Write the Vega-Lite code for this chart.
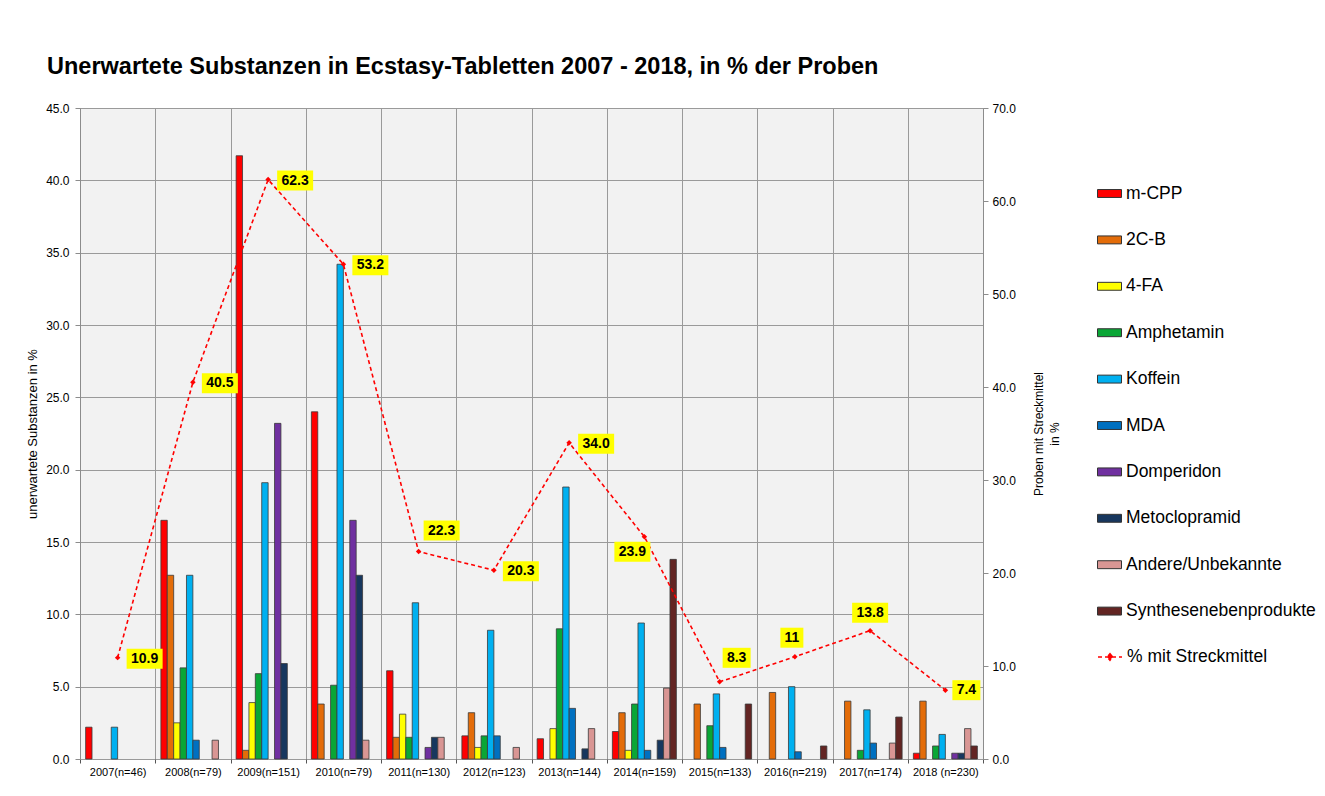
{
  "$schema": "https://vega.github.io/schema/vega-lite/v6.json",
  "width": 903,
  "height": 651,
  "autosize": {"type": "none"},
  "padding": {"left": 80, "top": 108, "right": 342, "bottom": 37},
  "background": "white",
  "config": {
    "font": "Liberation Sans",
    "view": {"fill": "#f2f2f2", "stroke": "#8c8c8c", "strokeWidth": 1}
  },
  "title": {
    "text": "Unerwartete Substanzen in Ecstasy-Tabletten 2007 - 2018, in % der Proben",
    "fontSize": 23.5,
    "fontWeight": "bold",
    "font": "Liberation Sans",
    "color": "#000000",
    "anchor": "start",
    "frame": "group",
    "dx": -33,
    "offset": 24
  },
  "datasets": {
    "bars": [
      {"year": "2007(n=46)", "substance": "m-CPP", "value": 2.2},
      {"year": "2007(n=46)", "substance": "Koffein", "value": 2.2},
      {"year": "2008(n=79)", "substance": "m-CPP", "value": 16.5},
      {"year": "2008(n=79)", "substance": "2C-B", "value": 12.7},
      {"year": "2008(n=79)", "substance": "4-FA", "value": 2.5},
      {"year": "2008(n=79)", "substance": "Amphetamin", "value": 6.3},
      {"year": "2008(n=79)", "substance": "Koffein", "value": 12.7},
      {"year": "2008(n=79)", "substance": "MDA", "value": 1.3},
      {"year": "2008(n=79)", "substance": "Andere/Unbekannte", "value": 1.3},
      {"year": "2009(n=151)", "substance": "m-CPP", "value": 41.7},
      {"year": "2009(n=151)", "substance": "2C-B", "value": 0.6},
      {"year": "2009(n=151)", "substance": "4-FA", "value": 3.9},
      {"year": "2009(n=151)", "substance": "Amphetamin", "value": 5.9},
      {"year": "2009(n=151)", "substance": "Koffein", "value": 19.1},
      {"year": "2009(n=151)", "substance": "Domperidon", "value": 23.2},
      {"year": "2009(n=151)", "substance": "Metoclopramid", "value": 6.6},
      {"year": "2010(n=79)", "substance": "m-CPP", "value": 24.0},
      {"year": "2010(n=79)", "substance": "2C-B", "value": 3.8},
      {"year": "2010(n=79)", "substance": "Amphetamin", "value": 5.1},
      {"year": "2010(n=79)", "substance": "Koffein", "value": 34.2},
      {"year": "2010(n=79)", "substance": "Domperidon", "value": 16.5},
      {"year": "2010(n=79)", "substance": "Metoclopramid", "value": 12.7},
      {"year": "2010(n=79)", "substance": "Andere/Unbekannte", "value": 1.3},
      {"year": "2011(n=130)", "substance": "m-CPP", "value": 6.1},
      {"year": "2011(n=130)", "substance": "2C-B", "value": 1.5},
      {"year": "2011(n=130)", "substance": "4-FA", "value": 3.1},
      {"year": "2011(n=130)", "substance": "Amphetamin", "value": 1.5},
      {"year": "2011(n=130)", "substance": "Koffein", "value": 10.8},
      {"year": "2011(n=130)", "substance": "Domperidon", "value": 0.8},
      {"year": "2011(n=130)", "substance": "Metoclopramid", "value": 1.5},
      {"year": "2011(n=130)", "substance": "Andere/Unbekannte", "value": 1.5},
      {"year": "2012(n=123)", "substance": "m-CPP", "value": 1.6},
      {"year": "2012(n=123)", "substance": "2C-B", "value": 3.2},
      {"year": "2012(n=123)", "substance": "4-FA", "value": 0.8},
      {"year": "2012(n=123)", "substance": "Amphetamin", "value": 1.6},
      {"year": "2012(n=123)", "substance": "Koffein", "value": 8.9},
      {"year": "2012(n=123)", "substance": "MDA", "value": 1.6},
      {"year": "2012(n=123)", "substance": "Andere/Unbekannte", "value": 0.8},
      {"year": "2013(n=144)", "substance": "m-CPP", "value": 1.4},
      {"year": "2013(n=144)", "substance": "4-FA", "value": 2.1},
      {"year": "2013(n=144)", "substance": "Amphetamin", "value": 9.0},
      {"year": "2013(n=144)", "substance": "Koffein", "value": 18.8},
      {"year": "2013(n=144)", "substance": "MDA", "value": 3.5},
      {"year": "2013(n=144)", "substance": "Metoclopramid", "value": 0.7},
      {"year": "2013(n=144)", "substance": "Andere/Unbekannte", "value": 2.1},
      {"year": "2014(n=159)", "substance": "m-CPP", "value": 1.9},
      {"year": "2014(n=159)", "substance": "2C-B", "value": 3.2},
      {"year": "2014(n=159)", "substance": "4-FA", "value": 0.6},
      {"year": "2014(n=159)", "substance": "Amphetamin", "value": 3.8},
      {"year": "2014(n=159)", "substance": "Koffein", "value": 9.4},
      {"year": "2014(n=159)", "substance": "MDA", "value": 0.6},
      {"year": "2014(n=159)", "substance": "Metoclopramid", "value": 1.3},
      {"year": "2014(n=159)", "substance": "Andere/Unbekannte", "value": 4.9},
      {"year": "2014(n=159)", "substance": "Synthesenebenprodukte", "value": 13.8},
      {"year": "2015(n=133)", "substance": "2C-B", "value": 3.8},
      {"year": "2015(n=133)", "substance": "Amphetamin", "value": 2.3},
      {"year": "2015(n=133)", "substance": "Koffein", "value": 4.5},
      {"year": "2015(n=133)", "substance": "MDA", "value": 0.8},
      {"year": "2015(n=133)", "substance": "Synthesenebenprodukte", "value": 3.8},
      {"year": "2016(n=219)", "substance": "2C-B", "value": 4.6},
      {"year": "2016(n=219)", "substance": "Koffein", "value": 5.0},
      {"year": "2016(n=219)", "substance": "MDA", "value": 0.5},
      {"year": "2016(n=219)", "substance": "Synthesenebenprodukte", "value": 0.9},
      {"year": "2017(n=174)", "substance": "2C-B", "value": 4.0},
      {"year": "2017(n=174)", "substance": "Amphetamin", "value": 0.6},
      {"year": "2017(n=174)", "substance": "Koffein", "value": 3.4},
      {"year": "2017(n=174)", "substance": "MDA", "value": 1.1},
      {"year": "2017(n=174)", "substance": "Andere/Unbekannte", "value": 1.1},
      {"year": "2017(n=174)", "substance": "Synthesenebenprodukte", "value": 2.9},
      {"year": "2018 (n=230)", "substance": "m-CPP", "value": 0.4},
      {"year": "2018 (n=230)", "substance": "2C-B", "value": 4.0},
      {"year": "2018 (n=230)", "substance": "Amphetamin", "value": 0.9},
      {"year": "2018 (n=230)", "substance": "Koffein", "value": 1.7},
      {"year": "2018 (n=230)", "substance": "Domperidon", "value": 0.4},
      {"year": "2018 (n=230)", "substance": "Metoclopramid", "value": 0.4},
      {"year": "2018 (n=230)", "substance": "Andere/Unbekannte", "value": 2.1},
      {"year": "2018 (n=230)", "substance": "Synthesenebenprodukte", "value": 0.9}
    ],
    "line": [
      {"year": "2007(n=46)", "pct": 10.9, "label": "10.9"},
      {"year": "2008(n=79)", "pct": 40.5, "label": "40.5"},
      {"year": "2009(n=151)", "pct": 62.3, "label": "62.3"},
      {"year": "2010(n=79)", "pct": 53.2, "label": "53.2"},
      {"year": "2011(n=130)", "pct": 22.3, "label": "22.3"},
      {"year": "2012(n=123)", "pct": 20.3, "label": "20.3"},
      {"year": "2013(n=144)", "pct": 34.0, "label": "34.0"},
      {"year": "2014(n=159)", "pct": 23.9, "label": "23.9"},
      {"year": "2015(n=133)", "pct": 8.3, "label": "8.3"},
      {"year": "2016(n=219)", "pct": 11.0, "label": "11"},
      {"year": "2017(n=174)", "pct": 13.8, "label": "13.8"},
      {"year": "2018 (n=230)", "pct": 7.4, "label": "7.4"}
    ]
  },
  "resolve": {"scale": {"y": "independent"}},
  "layer": [
    {
      "data": {"name": "bars"},
      "mark": {"type": "bar", "stroke": "#3a3a3a", "strokeWidth": 0.8},
      "encoding": {
        "x": {
          "field": "year", "type": "nominal", "sort": null,
          "scale": {
            "domain": ["2007(n=46)", "2008(n=79)", "2009(n=151)", "2010(n=79)", "2011(n=130)", "2012(n=123)", "2013(n=144)", "2014(n=159)", "2015(n=133)", "2016(n=219)", "2017(n=174)", "2018 (n=230)"],
            "paddingInner": 0, "paddingOuter": 0
          },
          "axis": {
            "title": null, "tickBand": "extent", "grid": true, "gridColor": "#9a9a9a", "gridWidth": 1,
            "domain": false, "ticks": true, "tickSize": 4, "tickColor": "#555555",
            "labelFontSize": 11, "labelColor": "#000000", "labelPadding": 3, "labelAngle": 0,
            "labelFont": "Liberation Sans"
          }
        },
        "xOffset": {
          "field": "substance", "type": "nominal",
          "scale": {
            "domain": ["m-CPP", "2C-B", "4-FA", "Amphetamin", "Koffein", "MDA", "Domperidon", "Metoclopramid", "Andere/Unbekannte", "Synthesenebenprodukte"],
            "paddingInner": 0, "paddingOuter": 0.88
          }
        },
        "y": {
          "field": "value", "type": "quantitative",
          "scale": {"domain": [0, 45], "nice": false},
          "axis": {
            "title": "unerwartete Substanzen in %", "values": [0, 5, 10, 15, 20, 25, 30, 35, 40, 45], "format": ".1f",
            "grid": true, "gridColor": "#9a9a9a", "gridWidth": 1,
            "domain": true, "domainColor": "#8c8c8c", "tickColor": "#8c8c8c", "tickSize": 5,
            "labelFontSize": 12, "labelColor": "#000000", "labelPadding": 6, "labelFont": "Liberation Sans",
            "titleFontSize": 13, "titleFontWeight": "normal", "titleColor": "#000000", "titlePadding": 6, "titleFont": "Liberation Sans"
          }
        },
        "color": {
          "field": "substance", "type": "nominal",
          "scale": {
            "domain": ["m-CPP", "2C-B", "4-FA", "Amphetamin", "Koffein", "MDA", "Domperidon", "Metoclopramid", "Andere/Unbekannte", "Synthesenebenprodukte"],
            "range": ["#ff0000", "#e36c09", "#ffff00", "#0aa636", "#00b0f0", "#0070c0", "#7030a0", "#17375e", "#d99694", "#632523"]
          },
          "legend": {
            "title": null, "orient": "none", "legendX": 1017, "legendY": 73, "padding": 0,
            "symbolType": "M-1,-0.33H1V0.33H-1Z", "symbolSize": 576, "symbolStrokeColor": "#333333", "symbolStrokeWidth": 1,
            "labelFontSize": 17.5, "labelColor": "#000000", "labelOffset": 4, "rowPadding": 25.4, "labelLimit": 300, "labelFont": "Liberation Sans"
          }
        }
      }
    },
    {
      "data": {"name": "line"},
      "encoding": {
        "x": {"field": "year", "type": "nominal", "sort": null},
        "y": {
          "field": "pct", "type": "quantitative",
          "scale": {"domain": [0, 70], "nice": false},
          "axis": {
            "orient": "right", "title": ["Proben mit Streckmittel", "in %"], "values": [0, 10, 20, 30, 40, 50, 60, 70], "format": ".1f",
            "grid": false, "domain": true, "domainColor": "#8c8c8c", "tickColor": "#8c8c8c", "tickSize": 5,
            "labelFontSize": 12, "labelColor": "#000000", "labelPadding": 4, "labelFont": "Liberation Sans",
            "titleFontSize": 12, "titleFontWeight": "normal", "titleColor": "#000000", "titlePadding": 14,
            "titleAngle": 270, "titleLineHeight": 16, "titleFont": "Liberation Sans"
          }
        }
      },
      "layer": [
        {
          "mark": {"type": "line", "color": "#ff0000", "strokeWidth": 1.6},
          "encoding": {
            "strokeDash": {
              "datum": "% mit Streckmittel",
              "scale": {"range": [[4, 3]]},
              "legend": {
                "title": null, "orient": "none", "legendX": 1017, "legendY": 536, "padding": 0,
                "symbolType": "M-1,0H1M0,-0.28L0.22,0L0,0.28L-0.22,0Z", "symbolSize": 576,
                "symbolStrokeColor": "#ff0000", "symbolFillColor": "#ff0000", "symbolStrokeWidth": 1.5,
                "labelFontSize": 17.5, "labelColor": "#000000", "labelOffset": 4, "labelLimit": 300, "labelFont": "Liberation Sans"
              }
            }
          }
        },
        {
          "mark": {"type": "point", "shape": "diamond", "filled": true, "color": "#ff0000", "size": 30, "opacity": 1}
        },
        {
          "transform": [{"filter": {"field": "year", "oneOf": ["2007(n=46)", "2008(n=79)", "2009(n=151)", "2010(n=79)", "2012(n=123)", "2013(n=144)"]}}],
          "layer": [
            {"mark": {"type": "point", "filled": true, "color": "#ffff00", "opacity": 1, "size": 400, "strokeWidth": 0, "xOffset": 27, "yOffset": 1, "shape": "M-1.8,-1H1.8V1H-1.8Z"}},
            {"mark": {"type": "text", "xOffset": 27, "yOffset": 1, "fontWeight": "bold", "fontSize": 14, "align": "center", "baseline": "middle", "color": "#000000", "font": "Liberation Sans"}, "encoding": {"text": {"field": "label"}}}
          ]
        },
        {
          "transform": [{"filter": {"field": "year", "oneOf": ["2018 (n=230)"]}}],
          "layer": [
            {"mark": {"type": "point", "filled": true, "color": "#ffff00", "opacity": 1, "size": 400, "strokeWidth": 0, "xOffset": 21, "yOffset": 0, "shape": "M-1.4,-1H1.4V1H-1.4Z"}},
            {"mark": {"type": "text", "xOffset": 21, "yOffset": 0, "fontWeight": "bold", "fontSize": 14, "align": "center", "baseline": "middle", "color": "#000000", "font": "Liberation Sans"}, "encoding": {"text": {"field": "label"}}}
          ]
        },
        {
          "transform": [{"filter": {"field": "year", "oneOf": ["2011(n=130)"]}}],
          "layer": [
            {"mark": {"type": "point", "filled": true, "color": "#ffff00", "opacity": 1, "size": 400, "strokeWidth": 0, "xOffset": 23, "yOffset": -21, "shape": "M-1.8,-1H1.8V1H-1.8Z"}},
            {"mark": {"type": "text", "xOffset": 23, "yOffset": -21, "fontWeight": "bold", "fontSize": 14, "align": "center", "baseline": "middle", "color": "#000000", "font": "Liberation Sans"}, "encoding": {"text": {"field": "label"}}}
          ]
        },
        {
          "transform": [{"filter": {"field": "year", "oneOf": ["2014(n=159)"]}}],
          "layer": [
            {"mark": {"type": "point", "filled": true, "color": "#ffff00", "opacity": 1, "size": 400, "strokeWidth": 0, "xOffset": -12, "yOffset": 15, "shape": "M-1.8,-1H1.8V1H-1.8Z"}},
            {"mark": {"type": "text", "xOffset": -12, "yOffset": 15, "fontWeight": "bold", "fontSize": 14, "align": "center", "baseline": "middle", "color": "#000000", "font": "Liberation Sans"}, "encoding": {"text": {"field": "label"}}}
          ]
        },
        {
          "transform": [{"filter": {"field": "year", "oneOf": ["2015(n=133)"]}}],
          "layer": [
            {"mark": {"type": "point", "filled": true, "color": "#ffff00", "opacity": 1, "size": 400, "strokeWidth": 0, "xOffset": 17, "yOffset": -24, "shape": "M-1.4,-1H1.4V1H-1.4Z"}},
            {"mark": {"type": "text", "xOffset": 17, "yOffset": -24, "fontWeight": "bold", "fontSize": 14, "align": "center", "baseline": "middle", "color": "#000000", "font": "Liberation Sans"}, "encoding": {"text": {"field": "label"}}}
          ]
        },
        {
          "transform": [{"filter": {"field": "year", "oneOf": ["2016(n=219)"]}}],
          "layer": [
            {"mark": {"type": "point", "filled": true, "color": "#ffff00", "opacity": 1, "size": 400, "strokeWidth": 0, "xOffset": -3, "yOffset": -19, "shape": "M-1.15,-1H1.15V1H-1.15Z"}},
            {"mark": {"type": "text", "xOffset": -3, "yOffset": -19, "fontWeight": "bold", "fontSize": 14, "align": "center", "baseline": "middle", "color": "#000000", "font": "Liberation Sans"}, "encoding": {"text": {"field": "label"}}}
          ]
        },
        {
          "transform": [{"filter": {"field": "year", "oneOf": ["2017(n=174)"]}}],
          "layer": [
            {"mark": {"type": "point", "filled": true, "color": "#ffff00", "opacity": 1, "size": 400, "strokeWidth": 0, "xOffset": 0, "yOffset": -18, "shape": "M-1.8,-1H1.8V1H-1.8Z"}},
            {"mark": {"type": "text", "xOffset": 0, "yOffset": -18, "fontWeight": "bold", "fontSize": 14, "align": "center", "baseline": "middle", "color": "#000000", "font": "Liberation Sans"}, "encoding": {"text": {"field": "label"}}}
          ]
        }
      ]
    }
  ]
}
